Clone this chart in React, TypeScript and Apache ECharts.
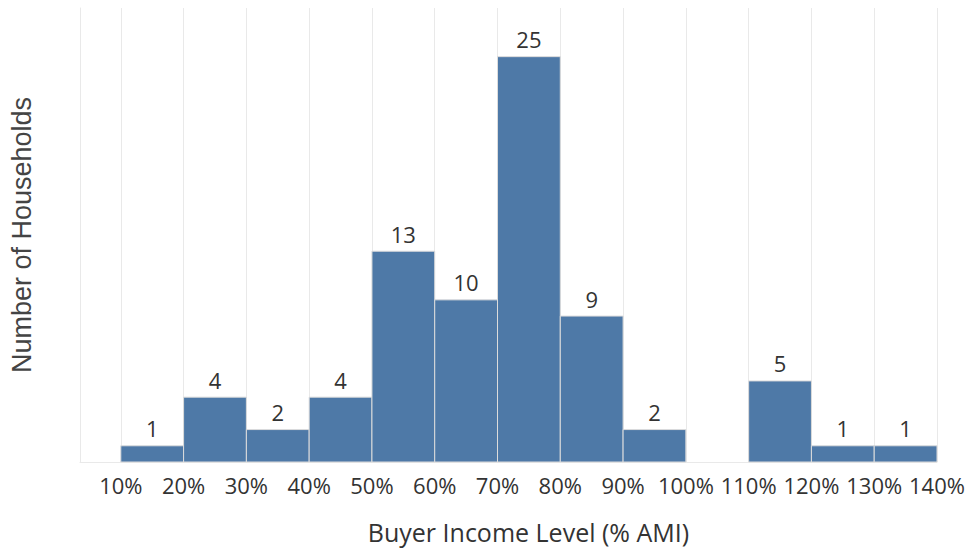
import React, { useEffect, useRef } from "react";
import * as echarts from "echarts";

const binStarts = [10, 20, 30, 40, 50, 60, 70, 80, 90, 100, 110, 120, 130];
const binEnds = [20, 30, 40, 50, 60, 70, 80, 90, 100, 110, 120, 130, 140];
const counts = [1, 4, 2, 4, 13, 10, 25, 9, 2, 0, 5, 1, 1];
const edgeTicks = [10, 20, 30, 40, 50, 60, 70, 80, 90, 100, 110, 120, 130, 140];

const FONT = "'Open Sans', 'Noto Sans', sans-serif";
const TEXT = "#333333";
const GRID = "#e9e9e9";

export default function App() {
  const ref = useRef<HTMLDivElement>(null);
  useEffect(() => {
    document.body.style.margin = "0";
    const chart = echarts.init(ref.current!, null, { renderer: "svg" });
    const data = binStarts.map((s, i) => [s, binEnds[i], counts[i]]);
    chart.setOption({
      animation: false,
      textStyle: { fontFamily: FONT },
      grid: {
        left: 80,
        right: 32,
        top: 8,
        bottom: 88,
        containLabel: false,
        outerBoundsMode: "none",
      },
      xAxis: {
        type: "value",
        min: 3.5,
        max: 140,
        name: "Buyer Income Level (% AMI)",
        nameLocation: "middle",
        nameGap: 57,
        nameTextStyle: {
          fontSize: 25,
          color: TEXT,
          fontFamily: FONT,
          padding: [0, 0, 0, 40],
        },
        axisLine: { show: true, lineStyle: { color: GRID, width: 1 } },
        axisTick: { show: false, customValues: edgeTicks },
        axisLabel: {
          customValues: edgeTicks,
          formatter: (v: number) => `${v}%`,
          fontSize: 22,
          color: TEXT,
          fontFamily: FONT,
          margin: 12,
        },
        splitLine: { show: true, lineStyle: { color: GRID, width: 1 } },
      },
      yAxis: {
        type: "value",
        min: 0,
        max: 28,
        name: "Number of Households",
        nameLocation: "middle",
        nameGap: 45,
        nameTextStyle: {
          fontSize: 27,
          color: "#444444",
          fontFamily: "'Liberation Sans', Arial, sans-serif",
        },
        axisLine: { show: true, lineStyle: { color: GRID, width: 1 } },
        axisTick: { show: false },
        axisLabel: { show: false },
        splitLine: { show: false },
      },
      series: [
        {
          type: "custom",
          data,
          encode: { x: [0, 1], y: 2 },
          renderItem: (params: any, api: any) => {
            const v = api.value(2);
            if (!v) return null;
            const tl = api.coord([api.value(0), v]);
            const br = api.coord([api.value(1), 0]);
            return {
              type: "rect",
              shape: { x: tl[0], y: tl[1], width: br[0] - tl[0], height: br[1] - tl[1] },
              style: { fill: "#4e79a7", stroke: "#dcdcdc", lineWidth: 1 },
              textContent: {
                style: { text: String(v), fill: TEXT, font: `22px ${FONT}` },
              },
              textConfig: { position: "top", distance: 6 },
            };
          },
        },
      ],
    });
    return () => chart.dispose();
  }, []);
  return <div ref={ref} style={{ width: 969, height: 550 }} />;
}
